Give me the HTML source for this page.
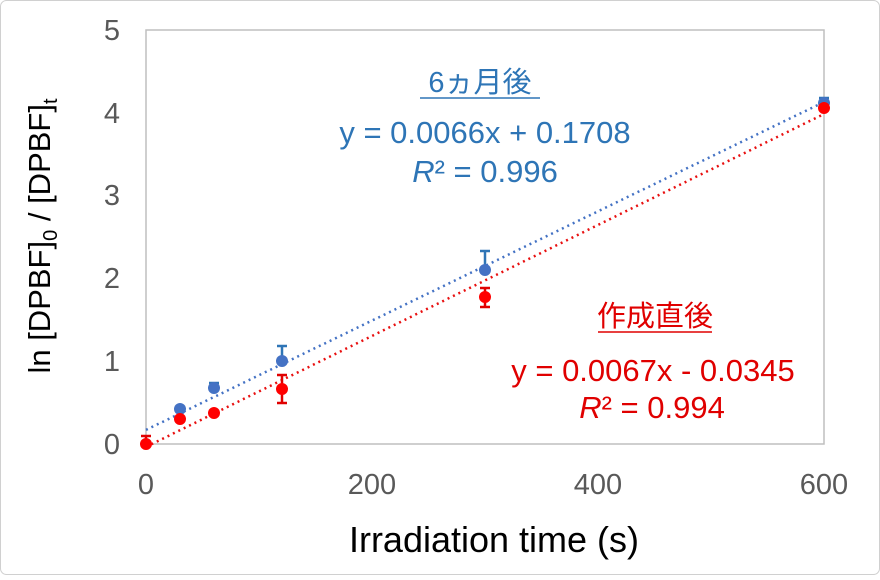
<!DOCTYPE html><html><head><style>body{margin:0;background:#fff}</style></head><body>
<svg width="880" height="575" xmlns="http://www.w3.org/2000/svg" font-family="Liberation Sans, Noto Sans CJK JP, sans-serif">
<rect x="0.5" y="0.5" width="879" height="574" rx="6" fill="#fff" stroke="#d0d0d0"/>
<rect x="146" y="30" width="678" height="414" fill="none" stroke="#bfbfbf" stroke-width="1.5"/>
<g fill="#595959" font-size="29" text-anchor="end">
<text x="120" y="454">0</text><text x="120" y="371">1</text><text x="120" y="288">2</text><text x="120" y="205">3</text><text x="120" y="123">4</text><text x="120" y="40">5</text>
</g>
<g fill="#595959" font-size="29" text-anchor="middle">
<text x="146" y="494">0</text><text x="372" y="494">200</text><text x="598" y="494">400</text><text x="824" y="494">600</text>
</g>
<text x="494" y="552" font-size="36" text-anchor="middle" fill="#000">Irradiation time (s)</text>
<text transform="translate(50,236) rotate(-90)" font-size="31" text-anchor="middle" fill="#000">ln [DPBF]<tspan font-size="20" dy="7">0</tspan><tspan dy="-7"> / [DPBF]</tspan><tspan font-size="20" dy="7">t</tspan></text>
<line x1="146" y1="429.9" x2="824" y2="102" stroke="#4472c4" stroke-width="2.5" stroke-dasharray="2,4"/>
<line x1="146" y1="446.9" x2="824" y2="114" stroke="#e81010" stroke-width="2.5" stroke-dasharray="2,4"/>
<g stroke="#2e75b6" stroke-width="2.5">
<line x1="214" y1="383" x2="214" y2="392"/><line x1="209" y1="383" x2="219" y2="383"/>
<line x1="282" y1="346" x2="282" y2="361"/><line x1="277" y1="346" x2="287" y2="346"/>
<line x1="485" y1="251" x2="485" y2="270"/><line x1="480" y1="251" x2="490" y2="251"/>
<line x1="824" y1="98" x2="824" y2="103"/><line x1="819" y1="98" x2="829" y2="98"/>
</g>
<g stroke="#e00000" stroke-width="2.5">
<line x1="146" y1="436" x2="146" y2="444"/><line x1="141" y1="436" x2="151" y2="436"/>
<line x1="282" y1="375" x2="282" y2="403"/><line x1="277" y1="375" x2="287" y2="375"/><line x1="277" y1="403" x2="287" y2="403"/>
<line x1="485" y1="288" x2="485" y2="307"/><line x1="480" y1="288" x2="490" y2="288"/><line x1="480" y1="307" x2="490" y2="307"/>
</g>
<g fill="#4472c4">
<circle cx="180" cy="409" r="6"/><circle cx="214" cy="388" r="6"/><circle cx="282" cy="361" r="6"/><circle cx="485" cy="270" r="6"/><circle cx="824" cy="103" r="6"/>
</g>
<g fill="#ff0000">
<circle cx="146" cy="444" r="6"/><circle cx="180" cy="419" r="6"/><circle cx="214" cy="413" r="6"/><circle cx="282" cy="389" r="6"/><circle cx="485" cy="297" r="6"/><circle cx="824" cy="108" r="6"/>
</g>
<g fill="#2e75b6" font-size="31" text-anchor="middle">
<text x="480" y="92" font-size="29">6ヵ月後</text>
<line x1="420" y1="98" x2="540" y2="98" stroke="#2e75b6" stroke-width="1.5"/>
<text x="485" y="143">y = 0.0066x + 0.1708</text>
<text x="485" y="182"><tspan font-style="italic">R</tspan>² = 0.996</text>
</g>
<g fill="#e00000" font-size="31" text-anchor="middle">
<text x="655" y="326" font-size="29">作成直後</text>
<line x1="598" y1="332" x2="712" y2="332" stroke="#e00000" stroke-width="1.5"/>
<text x="653" y="381">y = 0.0067x - 0.0345</text>
<text x="652" y="418"><tspan font-style="italic">R</tspan>² = 0.994</text>
</g>
</svg></body></html>
